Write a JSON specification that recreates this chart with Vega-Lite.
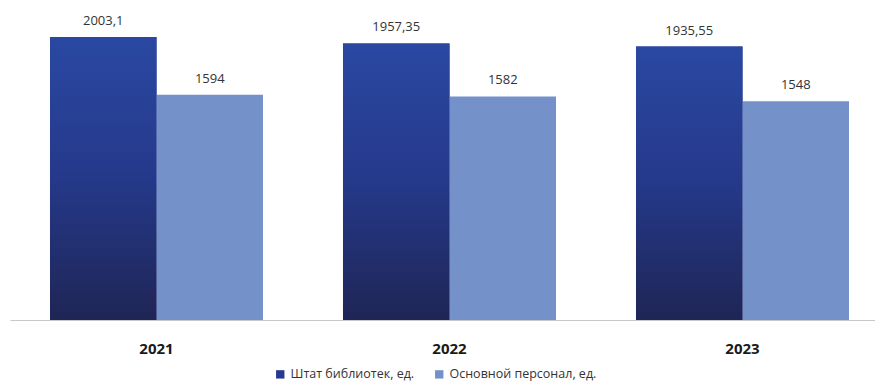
{
  "$schema": "https://vega.github.io/schema/vega-lite/v6.json",
  "width": 865,
  "height": 320,
  "autosize": "none",
  "padding": {"left": 10, "top": 0, "right": 0, "bottom": 63},
  "background": "white",
  "config": {"view": {"stroke": null}, "font": "Open Sans"},
  "data": {
    "values": [
      {"year": "2021", "series": "Штат библиотек, ед.", "value": 2003.1, "label": "2003,1"},
      {"year": "2021", "series": "Основной персонал, ед.", "value": 1594, "label": "1594"},
      {"year": "2022", "series": "Штат библиотек, ед.", "value": 1957.35, "label": "1957,35"},
      {"year": "2022", "series": "Основной персонал, ед.", "value": 1582, "label": "1582"},
      {"year": "2023", "series": "Штат библиотек, ед.", "value": 1935.55, "label": "1935,55"},
      {"year": "2023", "series": "Основной персонал, ед.", "value": 1548, "label": "1548"}
    ]
  },
  "encoding": {
    "x": {
      "field": "year", "type": "nominal",
      "scale": {"range": [0, 879], "paddingInner": 0.273, "paddingOuter": 0.1365},
      "axis": {"title": null, "labelAngle": 0, "ticks": false, "domainColor": "#c8c8c8", "domainWidth": 1.2,
        "labelFontSize": 15, "labelFontWeight": "bold", "labelColor": "#1a1a1a", "labelPadding": 21, "labelFont": "Open Sans"}
    },
    "xOffset": {"field": "series", "type": "nominal", "scale": {"domain": ["Штат библиотек, ед.", "Основной персонал, ед."], "paddingInner": 0}},
    "y": {"field": "value", "type": "quantitative", "scale": {"domain": [0, 2265], "nice": false}, "axis": null}
  },
  "layer": [
    {
      "mark": {"type": "bar"},
      "encoding": {
        "color": {
          "field": "series", "type": "nominal",
          "scale": {"domain": ["Штат библиотек, ед.", "Основной персонал, ед."], "range": ["#27398f", "#7591c9"]},
          "legend": {"title": null, "orient": "none", "legendX": 264, "legendY": 368, "direction": "horizontal",
            "symbolType": "square", "symbolSize": 70, "symbolStrokeWidth": 0, "labelFontSize": 12.5, "labelColor": "#333333",
            "columnPadding": 18, "labelOffset": 4, "labelFont": "Open Sans"}
        }
      }
    },
    {
      "transform": [{"filter": "datum.series === 'Штат библиотек, ед.'"}],
      "mark": {"type": "bar", "color": {"gradient": "linear", "x1": 0, "y1": 0, "x2": 0, "y2": 1,
        "stops": [{"offset": 0, "color": "#2a48a2"}, {"offset": 0.5, "color": "#25398a"}, {"offset": 1, "color": "#1f2555"}]}}
    },
    {
      "mark": {"type": "text", "baseline": "bottom", "dy": -9, "fontSize": 13, "color": "#333333", "font": "Open Sans"},
      "encoding": {"text": {"field": "label"}}
    }
  ]
}
